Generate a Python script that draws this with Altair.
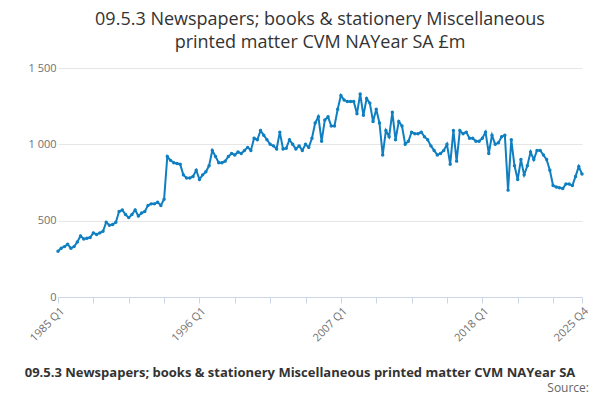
import altair as alt
import pandas as pd

YEARS = list(range(1985, 2026))
VALUES = [
    300, 320, 330, 345,
    320, 330, 360, 400,
    380, 385, 390, 420,
    410, 420, 430, 490,
    470, 475, 490, 560,
    570, 540, 520, 540,
    570, 530, 550, 560,
    600, 610, 610, 620,
    600, 640, 920, 895,
    880, 875, 870, 800,
    780, 780, 790, 830,
    770, 800, 820, 860,
    960, 920, 880, 880,
    890, 920, 940, 930,
    950, 940, 960, 980,
    960, 1040, 1030, 1090,
    1060, 1030, 1000, 990,
    970, 1080, 970, 975,
    1030, 1000, 970, 990,
    960, 1000, 980, 1040,
    1140, 1180, 1020, 1160,
    1180, 1120, 1120, 1230,
    1320, 1290, 1280, 1280,
    1280, 1200, 1330, 1190,
    1300, 1270, 1150, 1230,
    1140, 930, 1090, 1050,
    1210, 1030, 1150, 1120,
    1000, 1020, 1080, 1070,
    1070, 1080, 1050, 1030,
    990, 960, 930, 940,
    960, 1000, 870, 1090,
    890, 1090, 1070, 1080,
    1040, 1040, 1020, 1020,
    1040, 1080, 940, 1060,
    1000, 1010, 1050, 1060,
    700, 1030, 860, 770,
    900, 800, 860, 950,
    900, 960, 960, 930,
    900, 830, 730, 720,
    715, 710, 740, 740,
    730, 790, 855, 805,
]
LABELS = [f"{y} Q{q}" for y in YEARS for q in range(1, 5)]

df = pd.DataFrame({"i": range(len(VALUES)), "value": VALUES, "label": LABELS})

tick_vals = list(range(0, 155, 11)) + [163]
label_expr = ("datum.value == 0 ? '1985 Q1' : datum.value == 44 ? '1996 Q1' : "
              "datum.value == 88 ? '2007 Q1' : datum.value == 132 ? '2018 Q1' : "
              "datum.value == 163 ? '2025 Q4' : ''")

FONT = "Open Sans"
BLUE = "#0f7fc1"

line = alt.Chart(df).mark_line(
    color=BLUE, strokeWidth=2,
    point=alt.OverlayMarkDef(color=BLUE, size=12, filled=True),
).encode(
    x=alt.X("i:Q", scale=alt.Scale(domain=[0, 163], nice=False),
            axis=alt.Axis(values=tick_vals, labelExpr=label_expr, labelAngle=-45,
                          grid=False, title=None, labelColor="#707070",
                          labelFontSize=11, domainColor="#ccd6eb", tickColor="#ccd6eb",
                          tickSize=6, labelOverlap=False, labelFont=FONT)),
    y=alt.Y("value:Q", scale=alt.Scale(domain=[0, 1500]),
            axis=alt.Axis(values=[0, 500, 1000, 1500], format=",d", title=None,
                          domain=False, ticks=False, gridColor="#e6e6e6",
                          labelColor="#707070", labelFontSize=11, labelFont=FONT,
                          labelExpr="replace(datum.label, ',', ' ')")),
)

foot = pd.DataFrame({"t": ["09.5.3 Newspapers; books & stationery Miscellaneous printed matter CVM NAYear SA"]})
caption = alt.Chart(foot).mark_text(
    font=FONT, fontSize=13, fontWeight="bold", color="#333333", align="center"
).encode(text="t:N", x=alt.value(242), y=alt.value(305))

src = alt.Chart(pd.DataFrame({"t": ["Source:"]})).mark_text(
    font=FONT, fontSize=12, color="#666666", align="right"
).encode(text="t:N", x=alt.value(531), y=alt.value(320))

chart = alt.layer(line, caption, src).properties(
    width=524, height=229,
    autosize=alt.AutoSizeParams(type="none"),
    padding={"left": 50, "top": 60, "right": 10, "bottom": 95},
    title=alt.TitleParams(
        ["09.5.3 Newspapers; books & stationery Miscellaneous",
         "printed matter CVM NAYear SA £m"],
        font=FONT, fontSize=18, fontWeight=500, color="#333333",
        anchor="middle", offset=10, lineHeight=23),
).configure_view(stroke=None)

chart.save("out.html", embed_options={"renderer": "svg", "actions": False})
